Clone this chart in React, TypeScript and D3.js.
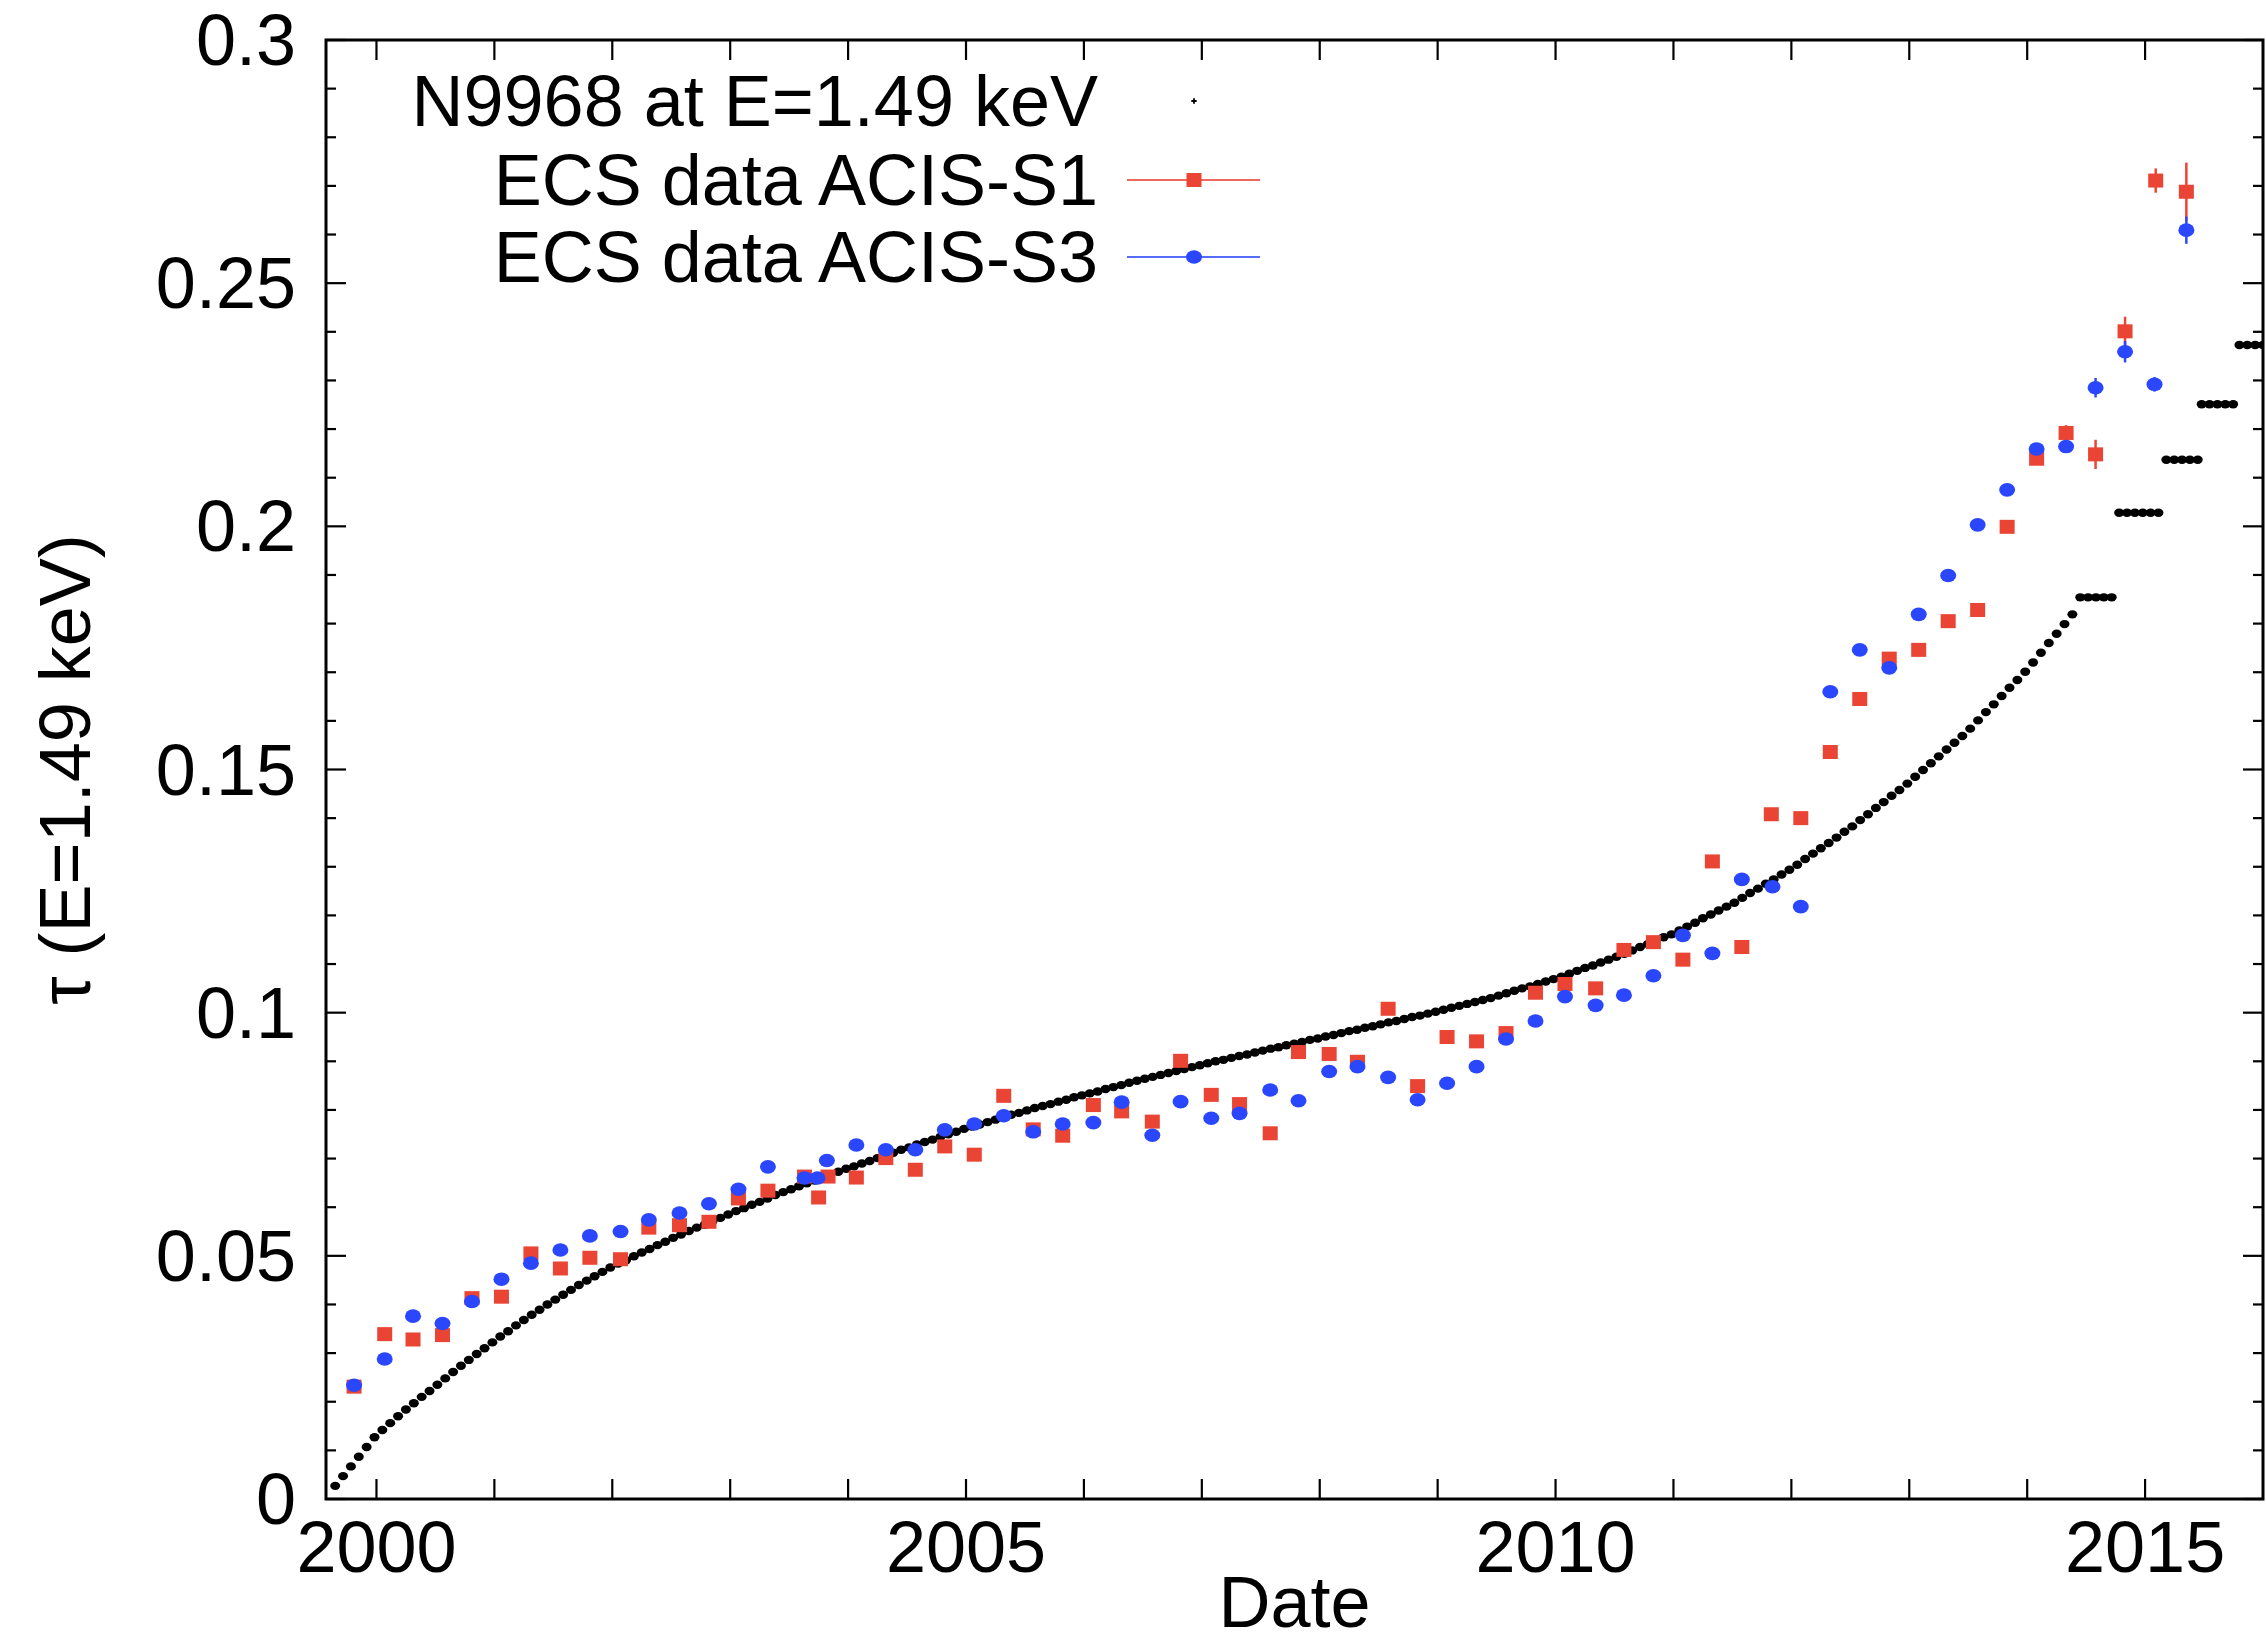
import * as d3 from "d3";
import { useEffect, useRef } from "react";

const WIDTH = 2266;
const HEIGHT = 1643;

// N9968 model, one value every 1/15 yr from 1999.65
const modelStart = 1999.65;
const modelStep = 1 / 15;
const modelTau = [
  0.0027, 0.0047, 0.0067, 0.0087, 0.0107, 0.0127, 0.0142, 0.0156, 0.0170, 0.0184,
  0.0197, 0.0210, 0.0222, 0.0235, 0.0248, 0.0261, 0.0274, 0.0286, 0.0298, 0.0310,
  0.0322, 0.0334, 0.0345, 0.0357, 0.0368, 0.0379, 0.0389, 0.0400, 0.0410, 0.0420,
  0.0430, 0.0440, 0.0449, 0.0458, 0.0467, 0.0476, 0.0484, 0.0491, 0.0499, 0.0507,
  0.0514, 0.0522, 0.0529, 0.0537, 0.0544, 0.0551, 0.0558, 0.0564, 0.0571, 0.0578,
  0.0585, 0.0592, 0.0598, 0.0605, 0.0611, 0.0618, 0.0625, 0.0631, 0.0637, 0.0643,
  0.0649, 0.0655, 0.0661, 0.0667, 0.0673, 0.0679, 0.0684, 0.0690, 0.0695, 0.0701,
  0.0707, 0.0712, 0.0718, 0.0723, 0.0729, 0.0734, 0.0739, 0.0745, 0.0750, 0.0755,
  0.0761, 0.0766, 0.0770, 0.0775, 0.0780, 0.0785, 0.0790, 0.0794, 0.0799, 0.0804,
  0.0808, 0.0812, 0.0817, 0.0821, 0.0826, 0.0830, 0.0834, 0.0838, 0.0843, 0.0847,
  0.0851, 0.0856, 0.0860, 0.0864, 0.0868, 0.0872, 0.0876, 0.0880, 0.0884, 0.0888,
  0.0892, 0.0896, 0.0900, 0.0903, 0.0907, 0.0911, 0.0914, 0.0918, 0.0922, 0.0926,
  0.0929, 0.0933, 0.0936, 0.0940, 0.0944, 0.0947, 0.0951, 0.0954, 0.0958, 0.0962,
  0.0965, 0.0969, 0.0972, 0.0976, 0.0980, 0.0983, 0.0987, 0.0991, 0.0994, 0.0998,
  0.1002, 0.1006, 0.1010, 0.1014, 0.1018, 0.1022, 0.1026, 0.1030, 0.1035, 0.1040,
  0.1045, 0.1050, 0.1054, 0.1059, 0.1064, 0.1069, 0.1074, 0.1080, 0.1086, 0.1092,
  0.1097, 0.1103, 0.1109, 0.1115, 0.1121, 0.1128, 0.1135, 0.1141, 0.1148, 0.1155,
  0.1161, 0.1169, 0.1177, 0.1185, 0.1194, 0.1202, 0.1210, 0.1218, 0.1226, 0.1236,
  0.1246, 0.1255, 0.1265, 0.1274, 0.1284, 0.1294, 0.1304, 0.1316, 0.1327, 0.1338,
  0.1349, 0.1360, 0.1372, 0.1383, 0.1396, 0.1408, 0.1421, 0.1433, 0.1446, 0.1458,
  0.1471, 0.1485, 0.1499, 0.1513, 0.1527, 0.1541, 0.1555, 0.1569, 0.1584, 0.1601,
  0.1618, 0.1634, 0.1651, 0.1668, 0.1684, 0.1701, 0.1720, 0.1740, 0.1760, 0.1779,
  0.1799, 0.1819,
];

// flat pieces of the model after mid 2014
const stepFrom = [2014.45, 2014.78, 2015.18, 2015.48, 2015.8];
const stepTo = [2014.72, 2015.17, 2015.47, 2015.78, 2016.05];
const stepTau = [0.1854, 0.2028, 0.2137, 0.2251, 0.2373];

// ECS data ACIS-S1
const s1Date = [
  1999.81,
  2000.07, 2000.31, 2000.56, 2000.81,
  2001.06, 2001.31, 2001.56, 2001.81,
  2002.07, 2002.31, 2002.57, 2002.82,
  2003.07, 2003.32, 2003.63, 2003.75, 2003.83,
  2004.07, 2004.32, 2004.57, 2004.82,
  2005.07, 2005.32, 2005.57, 2005.82,
  2006.08, 2006.32, 2006.58, 2006.82,
  2007.08, 2007.32, 2007.58, 2007.82,
  2008.08, 2008.32, 2008.58, 2008.83,
  2009.08, 2009.33, 2009.58, 2009.83,
  2010.08, 2010.34, 2010.58, 2010.83,
  2011.08, 2011.33, 2011.58, 2011.83,
  2012.08, 2012.33, 2012.58, 2012.83,
  2013.08, 2013.33, 2013.58, 2013.83,
  2014.08, 2014.33, 2014.58, 2014.83,
  2015.09, 2015.35,
];
const s1Tau = [
  0.0231,
  0.0339, 0.0328, 0.0337, 0.0413,
  0.0416, 0.0505, 0.0474, 0.0496,
  0.0493, 0.0558, 0.0563, 0.057,
  0.0618, 0.0634, 0.0663, 0.062, 0.0663,
  0.0661, 0.0701, 0.0677, 0.0725,
  0.0708, 0.0829, 0.076, 0.0747,
  0.081, 0.0797, 0.0776, 0.0901,
  0.0831, 0.0812, 0.0752, 0.0919,
  0.0915, 0.0899, 0.1008, 0.0849,
  0.095, 0.0941, 0.0958, 0.1041,
  0.1059, 0.105, 0.1129, 0.1145,
  0.1109, 0.1311, 0.1135, 0.1408,
  0.14, 0.1536, 0.1645, 0.1728,
  0.1746, 0.1805, 0.1828, 0.1999,
  0.2139, 0.2192, 0.2148, 0.2401,
  0.2711, 0.2688,
];
const s1Err = [
  0.001,
  0.001, 0.001, 0.001, 0.001,
  0.001, 0.001, 0.001, 0.001,
  0.001, 0.001, 0.001, 0.001,
  0.001, 0.001, 0.001, 0.001, 0.001,
  0.001, 0.001, 0.001, 0.001,
  0.001, 0.001, 0.001, 0.001,
  0.001, 0.001, 0.001, 0.001,
  0.001, 0.001, 0.001, 0.001,
  0.001, 0.001, 0.001, 0.001,
  0.001, 0.001, 0.001, 0.001,
  0.001, 0.001, 0.001, 0.001,
  0.001, 0.001, 0.001, 0.001,
  0.001, 0.001, 0.001, 0.001,
  0.0012, 0.0012, 0.0012, 0.0012,
  0.0012, 0.0016, 0.003, 0.003,
  0.0025, 0.006,
];

// ECS data ACIS-S3
const s3Date = [
  1999.81,
  2000.07, 2000.31, 2000.56, 2000.81,
  2001.06, 2001.31, 2001.56, 2001.81,
  2002.07, 2002.31, 2002.57, 2002.82,
  2003.07, 2003.32, 2003.63, 2003.74, 2003.82,
  2004.07, 2004.32, 2004.57, 2004.82,
  2005.07, 2005.32, 2005.57, 2005.82,
  2006.08, 2006.32, 2006.58, 2006.82,
  2007.08, 2007.32, 2007.58, 2007.82,
  2008.08, 2008.32, 2008.58, 2008.83,
  2009.08, 2009.33, 2009.58, 2009.83,
  2010.08, 2010.34, 2010.58, 2010.83,
  2011.08, 2011.33, 2011.58, 2011.84,
  2012.08, 2012.33, 2012.58, 2012.83,
  2013.08, 2013.33, 2013.58, 2013.83,
  2014.08, 2014.33, 2014.58, 2014.83,
  2015.08, 2015.35,
];
const s3Tau = [
  0.0234,
  0.0288, 0.0376, 0.0361, 0.0406,
  0.0452, 0.0485, 0.0512, 0.0541,
  0.055, 0.0574, 0.0588, 0.0607,
  0.0637, 0.0683, 0.066, 0.066, 0.0696,
  0.0728, 0.0718, 0.0718, 0.0759,
  0.0771, 0.0788, 0.0755, 0.0771,
  0.0774, 0.0816, 0.0748, 0.0817,
  0.0783, 0.0793, 0.0841, 0.0819,
  0.0879, 0.0889, 0.0867, 0.0821,
  0.0855, 0.0889, 0.0946, 0.0983,
  0.1033, 0.1015, 0.1036, 0.1076,
  0.1159, 0.1122, 0.1274, 0.1259,
  0.1218, 0.166, 0.1746, 0.1709,
  0.1819, 0.1899, 0.2003, 0.2075,
  0.2159, 0.2164, 0.2285, 0.2359,
  0.2292, 0.2609,
];
const s3Err = [
  0.001,
  0.001, 0.001, 0.001, 0.001,
  0.001, 0.001, 0.001, 0.001,
  0.001, 0.001, 0.001, 0.001,
  0.001, 0.001, 0.001, 0.001, 0.001,
  0.001, 0.001, 0.001, 0.001,
  0.001, 0.001, 0.001, 0.001,
  0.001, 0.001, 0.001, 0.001,
  0.001, 0.001, 0.001, 0.001,
  0.001, 0.001, 0.001, 0.001,
  0.001, 0.001, 0.001, 0.001,
  0.001, 0.001, 0.001, 0.001,
  0.001, 0.001, 0.001, 0.001,
  0.001, 0.001, 0.001, 0.001,
  0.001, 0.001, 0.001, 0.001,
  0.0012, 0.0012, 0.002, 0.0022,
  0.0015, 0.0028,
];

const yearTicks = [2000, 2001, 2002, 2003, 2004, 2005, 2006, 2007, 2008, 2009, 2010, 2011, 2012, 2013, 2014, 2015];
const yearLabels = [2000, 2005, 2010, 2015];
const tauLabels = [0, 0.05, 0.1, 0.15, 0.2, 0.25, 0.3];
const legendLabels = ["N9968 at E=1.49 keV", "ECS data ACIS-S1", "ECS data ACIS-S3"];

const FONT = "'Liberation Sans', Arial, Helvetica, sans-serif";
const RED = "#ea4434";
const BLUE = "#2a47fd";

const redraw = (container) => {
  const svg = d3.select(container.current);
  svg.selectAll("*").remove();

  const box = { x1: 326, x2: 2263, y1: 40, y2: 1499 };
  const x = d3.scaleLinear().domain([1999.572, 2016]).range([box.x1, box.x2]);
  const y = d3.scaleLinear().domain([0, 0.3]).range([box.y2, box.y1]);

  svg.append("rect").attr("width", WIDTH).attr("height", HEIGHT).attr("fill", "#fff");

  svg.append("defs").append("clipPath").attr("id", "plotArea")
    .append("rect")
    .attr("x", box.x1).attr("y", box.y1)
    .attr("width", box.x2 - box.x1).attr("height", box.y2 - box.y1);

  // ticks, mirrored on all four sides
  const ticks = svg.append("g").attr("stroke", "#000").attr("stroke-width", 2.2);
  yearTicks.forEach((yr) => {
    ticks.append("line").attr("x1", x(yr)).attr("x2", x(yr)).attr("y1", box.y2).attr("y2", box.y2 - 20);
    ticks.append("line").attr("x1", x(yr)).attr("x2", x(yr)).attr("y1", box.y1).attr("y2", box.y1 + 20);
  });
  d3.range(0, 31).forEach((i) => {
    const len = i % 5 === 0 ? 20 : 10;
    const v = i / 100;
    ticks.append("line").attr("x1", box.x1).attr("x2", box.x1 + len).attr("y1", y(v)).attr("y2", y(v));
    ticks.append("line").attr("x1", box.x2).attr("x2", box.x2 - len).attr("y1", y(v)).attr("y2", y(v));
  });

  svg.append("rect")
    .attr("x", box.x1).attr("y", box.y1)
    .attr("width", box.x2 - box.x1).attr("height", box.y2 - box.y1)
    .attr("fill", "none").attr("stroke", "#000").attr("stroke-width", 3);

  // tick labels
  const labels = svg.append("g").attr("font-family", FONT).attr("font-size", 72).attr("fill", "#000");
  yearLabels.forEach((yr) => {
    labels.append("text").attr("x", x(yr)).attr("y", 1572).attr("text-anchor", "middle").text(yr);
  });
  tauLabels.forEach((v) => {
    labels.append("text").attr("x", 296).attr("y", y(v) + 25).attr("text-anchor", "end").text(String(v));
  });

  labels.append("text").attr("x", (box.x1 + box.x2) / 2).attr("y", 1627)
    .attr("text-anchor", "middle").text("Date");
  labels.append("text")
    .attr("transform", `translate(90, ${(box.y1 + box.y2) / 2}) rotate(-90)`)
    .attr("text-anchor", "middle").text("τ (E=1.49 keV)");

  const plot = svg.append("g").attr("clip-path", "url(#plotArea)");

  // model dots
  const model = modelTau.map((v, i) => ({ t: modelStart + i * modelStep, v }));
  stepTau.forEach((v, k) => {
    d3.range(stepFrom[k], stepTo[k] + 1e-6, modelStep).forEach((t) => model.push({ t, v }));
  });
  plot.append("g").selectAll("ellipse").data(model).enter().append("ellipse")
    .attr("cx", (d) => x(d.t)).attr("cy", (d) => y(d.v))
    .attr("rx", 5).attr("ry", 4.2)
    .attr("fill", "#000");

  const drawSeries = (dates, taus, errs, color, shape) => {
    const pts = dates.map((t, i) => ({ t, v: taus[i], e: errs[i] }));
    const g = plot.append("g");
    g.selectAll("line").data(pts).enter().append("line")
      .attr("x1", (d) => x(d.t)).attr("x2", (d) => x(d.t))
      .attr("y1", (d) => y(d.v - d.e)).attr("y2", (d) => y(d.v + d.e))
      .attr("stroke", color).attr("stroke-width", 2.5);
    if (shape === "square") {
      g.selectAll("rect").data(pts).enter().append("rect")
        .attr("x", (d) => x(d.t) - 7.5).attr("y", (d) => y(d.v) - 7)
        .attr("width", 15).attr("height", 14).attr("fill", color);
    } else {
      g.selectAll("ellipse").data(pts).enter().append("ellipse")
        .attr("cx", (d) => x(d.t)).attr("cy", (d) => y(d.v))
        .attr("rx", 8).attr("ry", 6.8).attr("fill", color);
    }
  };
  drawSeries(s1Date, s1Tau, s1Err, RED, "square");
  drawSeries(s3Date, s3Tau, s3Err, BLUE, "circle");

  // legend
  const legend = svg.append("g");
  const rowBase = [126, 205, 282];
  legendLabels.forEach((label, i) => {
    legend.append("text").attr("x", 1098).attr("y", rowBase[i])
      .attr("text-anchor", "end").attr("font-family", FONT).attr("font-size", 72)
      .attr("fill", "#000").text(label);
  });
  const cy0 = rowBase[0] - 25;
  legend.append("path").attr("d", d3.symbol().type(d3.symbolCross).size(16)())
    .attr("transform", `translate(1194,${cy0})`).attr("fill", "#000");
  [[RED, "square"], [BLUE, "circle"]].forEach(([color, shape], k) => {
    const cy = rowBase[k + 1] - 25;
    legend.append("line").attr("x1", 1127).attr("x2", 1260).attr("y1", cy).attr("y2", cy)
      .attr("stroke", color).attr("stroke-width", 2).attr("stroke-opacity", 0.8);
    if (shape === "square") {
      legend.append("rect").attr("x", 1194 - 7.5).attr("y", cy - 7).attr("width", 15).attr("height", 14).attr("fill", color);
    } else {
      legend.append("ellipse").attr("cx", 1194).attr("cy", cy).attr("rx", 8).attr("ry", 6.8).attr("fill", color);
    }
  });
};

export default function App() {
  const container = useRef(null);

  useEffect(() => {
    redraw(container);
  }, []);

  return (
    <svg
      ref={container}
      width={WIDTH}
      height={HEIGHT}
      style={{ position: "absolute", left: 0, top: 0, display: "block" }}
    />
  );
}
